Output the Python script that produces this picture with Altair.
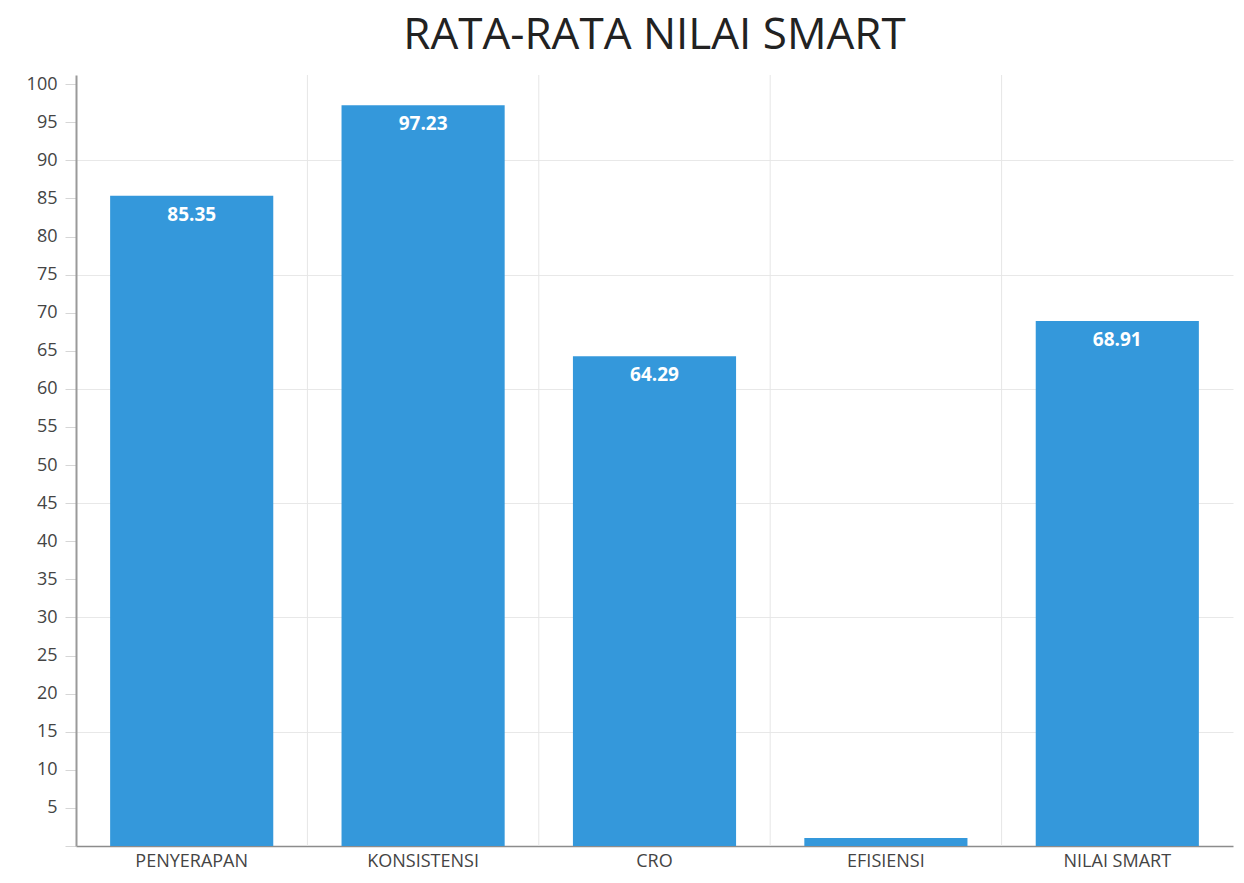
import altair as alt
import pandas as pd

categories = ["PENYERAPAN", "KONSISTENSI", "CRO", "EFISIENSI", "NILAI SMART"]
values = [85.35, 97.23, 64.29, 1.05, 68.91]
labels = ["85.35", "97.23", "64.29", "", "68.91"]
y_ticks = list(range(0, 101, 5))

df = pd.DataFrame({"kategori": categories, "nilai": values, "label": labels})
df_sep = pd.DataFrame({"kategori": categories[1:]})

FONT = "Open Sans"
BLUE = "#3498db"

x_scale = alt.Scale(domain=categories, paddingInner=0, paddingOuter=0)
y_scale = alt.Scale(domain=[0, 101.2], nice=False, zero=True)

x_axis = alt.Axis(
    labelAngle=0,
    labelFont=FONT,
    labelFontSize=18,
    labelColor="#444444",
    labelPadding=6,
    ticks=False,
    grid=False,
    domainColor="#8c8c8c",
    domainWidth=1.5,
)

y_axis = alt.Axis(
    values=y_ticks,
    labelOverlap=False,
    labelExpr="datum.value == 0 ? '' : datum.label",
    labelFont=FONT,
    labelFontSize=18,
    labelColor="#444444",
    labelPadding=8,
    tickSize=11,
    tickColor="#d6d6d6",
    grid=True,
    gridColor="#e8e8e8",
    gridOpacity={"condition": {"test": "datum.value % 15 === 0 && datum.value > 0", "value": 1}, "value": 0},
    domainColor="#9a9a9a",
    domainWidth=2,
)

separators = (
    alt.Chart(df_sep)
    .mark_rule(color="#e6e6e6", strokeWidth=1)
    .encode(
        x=alt.X("kategori:N", sort=categories, scale=x_scale, bandPosition=0, axis=None),
        y=alt.value(0),
        y2=alt.value(771),
    )
)

bars = alt.Chart(df).mark_bar(color=BLUE, width={"band": 0.705}).encode(
    x=alt.X("kategori:N", sort=categories, title=None, scale=x_scale, axis=x_axis),
    y=alt.Y("nilai:Q", title=None, scale=y_scale, axis=y_axis),
)

text = (
    alt.Chart(df)
    .mark_text(color="white", font=FONT, fontSize=19, fontWeight="bold", baseline="middle", dy=19)
    .encode(
        x=alt.X("kategori:N", sort=categories, scale=x_scale, axis=None),
        y=alt.Y("nilai:Q", scale=y_scale, axis=None),
        text="label:N",
    )
)

chart = (
    alt.layer(separators, bars, text)
    .resolve_axis(x="independent", y="independent")
    .properties(
        width=1157,
        height=771,
        title=alt.TitleParams(
            "RATA-RATA NILAI SMART",
            font=FONT,
            fontSize=44,
            fontWeight="normal",
            color="#222222",
            anchor="middle",
            offset=17,
        ),
        autosize=alt.AutoSizeParams(type="none"),
        padding={"left": 68, "top": 67, "right": 3, "bottom": 29},
    )
    .configure_view(stroke=None)
)

chart.save("out.html", embed_options={"renderer": "svg", "actions": False})
